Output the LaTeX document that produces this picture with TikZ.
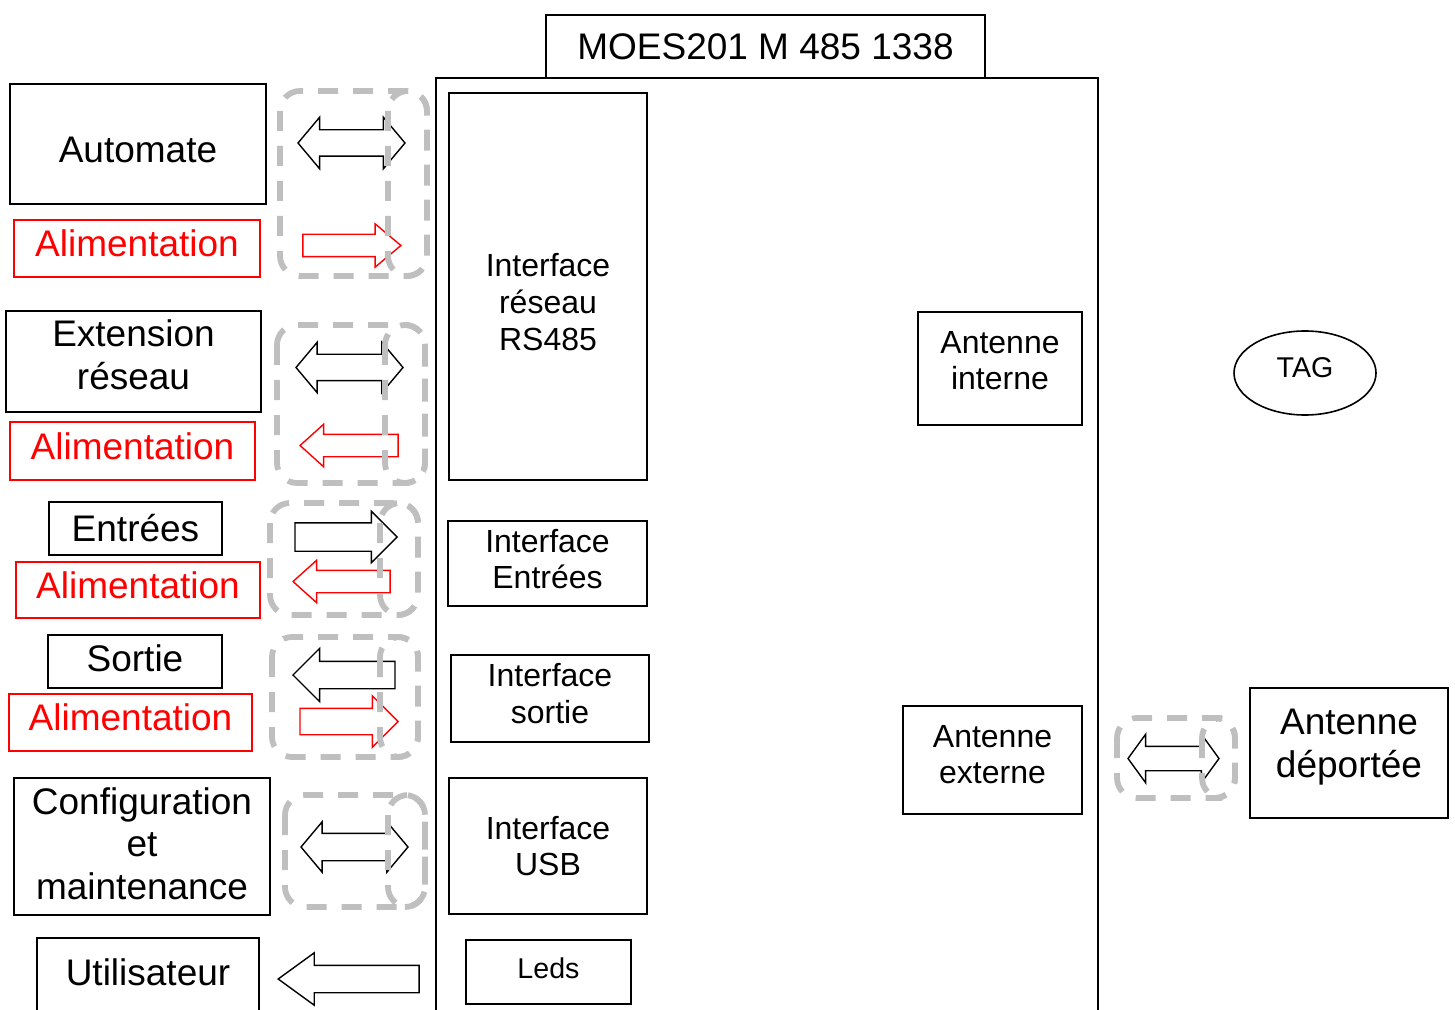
\documentclass[tikz,border=0pt]{standalone}
\usepackage{fontspec}
\setmainfont{Liberation Sans}
\usepackage{tikz}
\usetikzlibrary{shapes.geometric, shapes.arrows}

\definecolor{rouge}{RGB}{255,0,0}
\definecolor{grisgroupe}{RGB}{191,191,191}

\newcommand{\grand}{\fontsize{18.5pt}{21.3pt}\selectfont}
\newcommand{\moyen}{\fontsize{16pt}{18.4pt}\selectfont}
\newcommand{\petit}{\fontsize{14.3pt}{16.4pt}\selectfont}

\begin{document}
\begin{tikzpicture}[
  x=0.5pt, y=-0.5pt,
  boite/.style={draw, line width=0.8pt, align=center, inner sep=0pt, font=\grand},
  boiterouge/.style={boite, draw=rouge, text=rouge, line width=0.7pt, text depth=5pt},
  fleche/.style={single arrow, draw, line width=0.7pt, inner sep=0pt, anchor=tip,
    single arrow head indent=0pt, single arrow tip angle=90},
  dfleche/.style={double arrow, draw, line width=0.7pt, inner sep=0pt,
    double arrow head indent=0pt, double arrow tip angle=100},
  groupe/.style={draw=grisgroupe, line width=2.9pt, dash pattern=on 10pt off 7.5pt, rounded corners=10pt}
]
  \useasboundingbox (0,0) rectangle (1455,1010);
  \clip (0,0) rectangle (1455,1010);

  % Module MOES (cadre principal et titre)
  \node[boite, minimum width=331pt, minimum height=476pt] (moes) at (767,554) {};
  \node[boite, fill=white, minimum width=219.5pt, minimum height=31.5pt] (titre) at (765.5,46.5) {MOES201 M 485 1338};

  % Equipements externes (colonne de gauche)
  \node[boite, text height=18.2pt, minimum width=128pt, minimum height=60pt] (automate) at (138,144) {Automate};
  \node[boiterouge, minimum width=123pt, minimum height=28.5pt] (alim1) at (137,248.5) {Alimentation};
  \node[boite, text depth=7pt, minimum width=127.5pt, minimum height=50.5pt] (extension) at (133.5,361.5) {Extension\\réseau};
  \node[boiterouge, minimum width=122.5pt, minimum height=29pt] (alim2) at (132.5,451) {Alimentation};
  \node[boite, minimum width=86.5pt, minimum height=26.5pt] (entrees) at (135.5,528.5) {Entrées};
  \node[boiterouge, minimum width=122pt, minimum height=28pt] (alim3) at (138,590) {Alimentation};
  \node[boite, text depth=3pt, minimum width=87pt, minimum height=26.5pt] (sortie) at (135,661.5) {Sortie};
  \node[boiterouge, minimum width=121.5pt, minimum height=28.5pt] (alim4) at (130.5,722.5) {Alimentation};
  \node[boite, text depth=3pt, minimum width=128pt, minimum height=68.5pt] (config) at (142,846.5) {Configuration\\et\\maintenance};
  \node[boite, text depth=9pt, minimum width=111pt, minimum height=43pt] (utilisateur) at (148,981) {Utilisateur};

  % Interfaces internes
  \node[boite, minimum width=99pt, minimum height=193.5pt] (rs485) at (548,286.5) {};
  \node[align=center, inner sep=0pt, font=\moyen] (rs485txt) at (548,302) {Interface\\réseau\\RS485};
  \node[boite, font=\moyen, text depth=4.5pt, minimum width=99.5pt, minimum height=42.5pt] (ientrees) at (547.5,563.5) {Interface\\Entrées};
  \node[boite, font=\moyen, text depth=5pt, minimum width=99pt, minimum height=43.5pt] (isortie) at (550,698.5) {Interface\\sortie};
  \node[boite, font=\moyen, minimum width=99pt, minimum height=68pt] (iusb) at (548,846) {Interface\\USB};
  \node[boite, font=\petit, text depth=4pt, minimum width=82.5pt, minimum height=32pt] (leds) at (548.5,972) {Leds};

  % Antennes
  \node[boite, font=\moyen, text depth=8pt, minimum width=82pt, minimum height=56.5pt] (antint) at (1000,368.5) {Antenne\\interne};
  \node[boite, font=\moyen, text depth=5.5pt, minimum width=89.5pt, minimum height=54pt] (antext) at (992.5,760) {Antenne\\externe};
  \node[boite, text depth=10pt, minimum width=99pt, minimum height=65pt] (antdep) at (1349,753) {Antenne\\déportée};
  \node[ellipse, draw, line width=0.8pt, inner sep=0pt, font=\petit, text depth=5pt, minimum width=71pt, minimum height=42pt] (tag) at (1305,373) {TAG};

  % Fleches
  \node[dfleche, minimum height=53.5pt, inner ysep=6.25pt, double arrow head extend=6.25pt] (f1) at (351.5,143) {};
  \node[fleche, draw=rouge, minimum height=49pt, inner ysep=5.25pt, single arrow head extend=5.25pt, single arrow tip angle=80] (r1) at (402,245.5) {};
  \node[dfleche, minimum height=53.5pt, inner ysep=6.25pt, double arrow head extend=6pt] (f2) at (349.5,367.5) {};
  \node[fleche, draw=rouge, shape border rotate=180, minimum height=49pt, inner ysep=5.25pt, single arrow head extend=5pt, single arrow tip angle=84] (r2) at (299,445.5) {};
  \node[fleche, minimum height=51pt, inner ysep=6.75pt, single arrow head extend=5.75pt] (f3) at (398,537) {};
  \node[fleche, draw=rouge, shape border rotate=180, minimum height=48.5pt, inner ysep=5.25pt, single arrow head extend=5pt, single arrow tip angle=84] (r3) at (292,581.5) {};
  \node[fleche, shape border rotate=180, minimum height=51pt, inner ysep=6.5pt, single arrow head extend=6.5pt] (f4) at (292,675) {};
  \node[fleche, draw=rouge, minimum height=49pt, inner ysep=6.25pt, single arrow head extend=6.25pt] (r4) at (399,721.5) {};
  \node[dfleche, minimum height=53.5pt, inner ysep=6.5pt, double arrow head extend=5.75pt] (f5) at (354.5,847) {};
  \node[fleche, shape border rotate=180, minimum height=70.5pt, inner ysep=6.5pt, single arrow head extend=6.25pt, single arrow tip angle=72] (f6) at (277,979) {};
  \node[dfleche, minimum height=45.5pt, inner ysep=5.75pt, double arrow head extend=6pt, double arrow tip angle=108] (f7) at (1173.5,758.5) {};

  % Groupes en pointilles
  \draw[groupe] (280,91) rectangle (427,276);
  \draw[groupe] (388,91) rectangle (427,276);
  \draw[groupe] (277,325) rectangle (425,483);
  \draw[groupe] (385,325) rectangle (425,483);
  \draw[groupe] (270,503) rectangle (418,615);
  \draw[groupe] (380,503) rectangle (418,615);
  \draw[groupe] (272,637) rectangle (418,757);
  \draw[groupe] (380,637) rectangle (418,757);
  \draw[groupe] (285,795) rectangle (425,907);
  \draw[groupe] (388,795) rectangle (425,907);
  \draw[groupe] (1117,718) rectangle (1235,798);
  \draw[groupe] (1202,718) rectangle (1235,798);
\end{tikzpicture}
\end{document}
